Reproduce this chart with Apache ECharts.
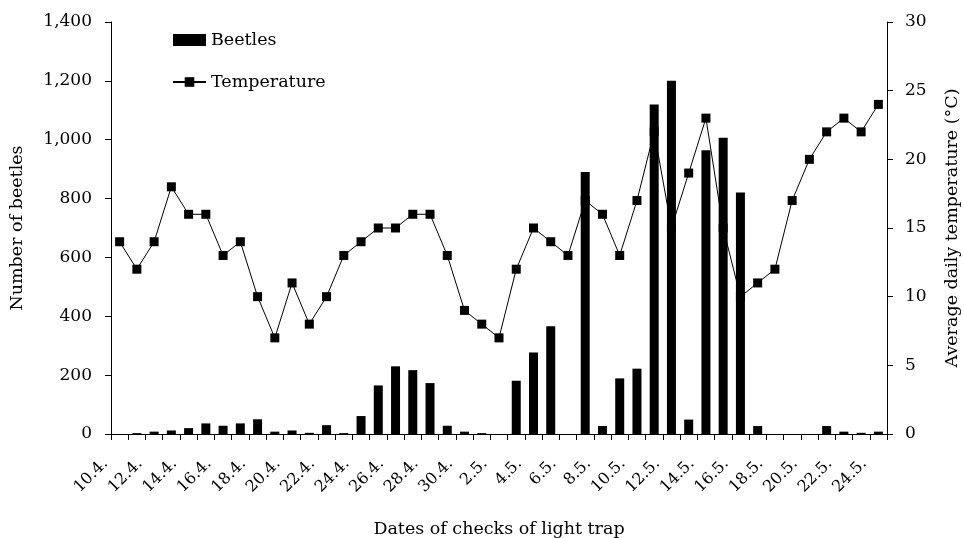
<!DOCTYPE html>
<html><head><meta charset="utf-8">
<script src="https://cdn.jsdelivr.net/npm/echarts@6/dist/echarts.min.js"></script>
<style>html,body{margin:0;padding:0;background:#fff}#c{width:964px;height:538px}</style>
</head><body><div id="c"></div>
<script>
const dates = ['10.4.','11.4.','12.4.','13.4.','14.4.','15.4.','16.4.','17.4.','18.4.','19.4.','20.4.','21.4.','22.4.','23.4.','24.4.','25.4.','26.4.','27.4.','28.4.','29.4.','30.4.',
  '1.5.','2.5.','3.5.','4.5.','5.5.','6.5.','7.5.','8.5.','9.5.','10.5.','11.5.','12.5.','13.5.','14.5.','15.5.','16.5.','17.5.','18.5.','19.5.','20.5.','21.5.','22.5.','23.5.','24.5.'];
const beetles = [0,3,8,12,20,36,28,36,50,8,12,4,30,3,61,165,230,217,173,28,8,3,0,181,277,366,0,890,27,189,222,1120,1200,49,964,1007,821,27,0,0,0,27,8,4,8];
const temperature = [14,12,14,18,16,16,13,14,10,7,11,8,10,13,14,15,15,16,16,13,9,8,7,12,15,14,13,17,16,13,17,22,15,19,23,15,10,11,12,17,20,22,23,22,24];
const leftTicks = {min:0,max:1400,interval:200};
const rightTicks = {min:0,max:30,interval:5};

const FONT = 'DejaVu Serif';
const chart = echarts.init(document.getElementById('c'));
const axisStyle = {lineStyle:{color:'#000',width:1}};
chart.setOption({
  animation:false,
  textStyle:{fontFamily:FONT,color:'#000'},
  grid:{left:111,right:77,top:22,bottom:104,containLabel:false,outerBoundsMode:'none'},
  legend:{
    left:167, top:26, orient:'vertical', itemGap:24, itemWidth:33, itemHeight:12,
    textStyle:{fontFamily:FONT,fontSize:17.5,color:'#000'},
    data:[{name:'Beetles',icon:'rect'},{name:'Temperature'}]
  },
  xAxis:{
    type:'category', data:dates, boundaryGap:true,
    name:'Dates of checks of light trap', nameLocation:'middle', nameGap:86,
    nameTextStyle:{fontFamily:FONT,fontSize:17.5,color:'#000'},
    axisLine:axisStyle,
    axisTick:{show:true,interval:0,alignWithLabel:false,length:6,lineStyle:{color:'#000'}},
    axisLabel:{interval:1,rotate:45,fontFamily:FONT,fontSize:16,color:'#000',margin:13,padding:[0,20,0,0]},
    splitLine:{show:false}
  },
  yAxis:[{
    type:'value', min:leftTicks.min, max:leftTicks.max, interval:leftTicks.interval,
    name:'Number of beetles', nameLocation:'middle', nameGap:85, nameRotate:90,
    nameTextStyle:{fontFamily:FONT,fontSize:17.5,color:'#000'},
    axisLine:{show:true,lineStyle:{color:'#000'}},
    axisTick:{show:true,length:6,lineStyle:{color:'#000'}},
    axisLabel:{fontFamily:FONT,fontSize:17,color:'#000',margin:19,
      formatter:v=>v.toLocaleString('en-US')},
    splitLine:{show:false}
  },{
    type:'value', min:rightTicks.min, max:rightTicks.max, interval:rightTicks.interval,
    position:'right',
    name:'Average daily temperature (°C)', nameLocation:'middle', nameGap:56, nameRotate:90,
    nameTextStyle:{fontFamily:FONT,fontSize:17.5,color:'#000'},
    axisLine:{show:true,lineStyle:{color:'#000'}},
    axisTick:{show:true,length:6,lineStyle:{color:'#000'}},
    axisLabel:{fontFamily:FONT,fontSize:17,color:'#000',margin:18},
    splitLine:{show:false}
  }],
  series:[{
    name:'Beetles', type:'bar', data:beetles, barWidth:9,
    itemStyle:{color:'#000'}
  },{
    name:'Temperature', type:'line', yAxisIndex:1, data:temperature,
    symbol:'rect', symbolSize:9, showAllSymbol:true,
    lineStyle:{color:'#000',width:1}, itemStyle:{color:'#000'}, z:3
  }]
});
</script></body></html>
